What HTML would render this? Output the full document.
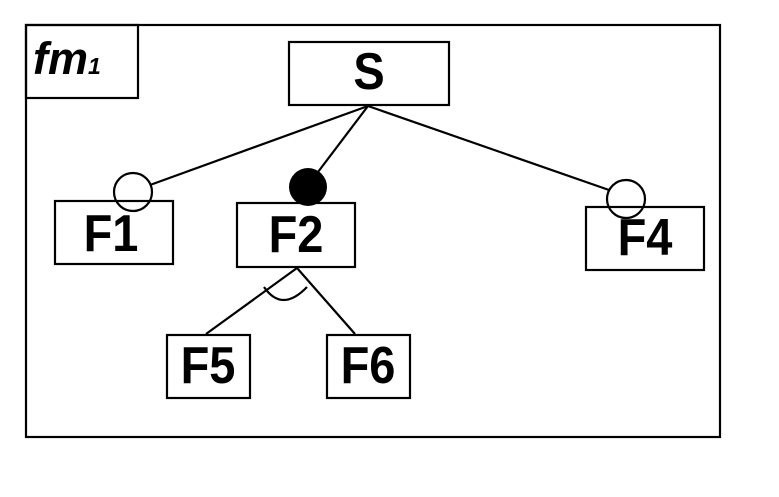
<!DOCTYPE html>
<html><head><meta charset="utf-8"><style>
html,body{margin:0;padding:0;background:#fff;width:779px;height:497px;overflow:hidden}
svg text{font-family:"Liberation Sans",Arial,sans-serif;font-weight:bold;fill:#000}
</style></head><body>
<svg width="779" height="497" viewBox="0 0 779 497" xmlns="http://www.w3.org/2000/svg">
<g fill="none" stroke="#000" stroke-width="2.2">
<rect x="26" y="25" width="694" height="412"/>
<rect x="26" y="25" width="112" height="73"/>
<rect x="289" y="42" width="160" height="63"/>
<rect x="55" y="201" width="118" height="63"/>
<rect x="237" y="203" width="118" height="64"/>
<rect x="586" y="207" width="118" height="63"/>
<rect x="167" y="335" width="83" height="63"/>
<rect x="327" y="335" width="83" height="63"/>
<line x1="368" y1="106" x2="150" y2="185"/>
<line x1="368" y1="106" x2="318" y2="172"/>
<line x1="368" y1="106" x2="609" y2="190"/>
<line x1="297" y1="268" x2="206" y2="334"/>
<line x1="297" y1="268" x2="355" y2="334"/>
<circle cx="133" cy="192" r="19"/>
<circle cx="626" cy="199" r="19"/>
<path d="M264 287 Q282 313 307 287"/>
</g>
<circle cx="308" cy="187" r="19" fill="#000"/>
<g font-size="47" text-anchor="middle">
<text transform="translate(369,89) scale(1,1.1)">S</text>
<text transform="translate(111,251) scale(1,1.1)">F1</text>
<text transform="translate(296,252) scale(1,1.1)">F2</text>
<text transform="translate(645,255) scale(1,1.1)">F4</text>
<text transform="translate(208,383) scale(1,1.1)">F5</text>
<text transform="translate(368,383) scale(1,1.1)">F6</text>
</g>
<text x="33" y="74" font-size="45" font-style="italic">fm<tspan font-size="23">1</tspan></text>
</svg>
</body></html>
